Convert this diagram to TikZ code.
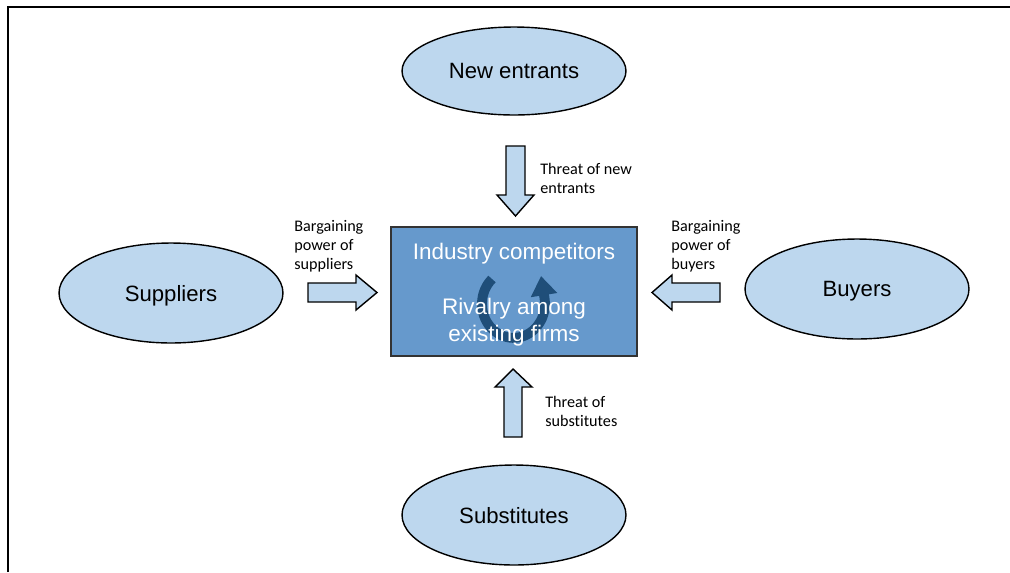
\documentclass[tikz,border=0pt]{standalone}
\usepackage{fontspec}
\setmainfont[Ligatures=NoCommon]{Carlito}
\newfontfamily\arialfont{Liberation Sans}
\usepackage{xcolor}
\usepackage{tikz}
\usetikzlibrary{shapes.geometric,arrows.meta}

\definecolor{paleblue}{RGB}{189,215,238}
\definecolor{midblue}{RGB}{102,153,204}
\definecolor{deepblue}{RGB}{31,78,121}

\begin{document}
\begin{tikzpicture}[x=0.02cm, y=-0.02cm,
  force/.style={ellipse, draw=black, fill=paleblue, line width=0.8pt, minimum width=4.48cm, minimum height=2cm, text depth=0pt, font=\arialfont\fontsize{12.6}{15}\selectfont},
  core/.style={rectangle, draw=black!80, fill=midblue, line width=0.9pt, minimum width=4.92cm, minimum height=2.58cm},
  coretext/.style={text=white, font=\arialfont\fontsize{12.8}{15.3}\selectfont, align=center},
  blockarrow/.style={draw=black, fill=paleblue, line width=0.8pt, line join=miter},
  note/.style={font=\fontsize{9.2}{10.8}\selectfont, align=left, anchor=west, inner sep=0pt}]
  \useasboundingbox (0,0) rectangle (1010,572);
  \draw[line width=0.9pt] (8,572) -- (8,7) -- (1012,7);

  % the five forces
  \node[force, minimum height=1.76cm] (entrants) at (514,71) {New entrants};
  \node[force] (suppliers) at (171,293) {Suppliers};
  \node[force] (buyers) at (857,289) {Buyers};
  \node[force] (substitutes) at (514,515) {Substitutes};
  \node[core] (rivalry) at (514,291.5) {};

  % rotation icon
  \coordinate (spinstart) at (492,279);
  \coordinate (spinend) at (541,276);
  \draw[deepblue, line width=5.6pt, -{Triangle[length=11pt, width=14.5pt]}]
    (spinstart) arc[start angle=133, end angle=370, x radius=0.63cm, y radius=0.68cm] -- (spinend);

  \node[coretext] (industry) at (514,254) {Industry competitors};
  \node[coretext] (rival) at (514,322) {Rivalry among\\existing firms};

  % block arrows
  \draw[blockarrow] (506,146) -- (525,146) -- (525,195) -- (534,195) -- (515.5,216) -- (497,195) -- (506,195) -- cycle;
  \draw[blockarrow] (504,437) -- (522,437) -- (522,387) -- (532,387) -- (513,369) -- (495,387) -- (504,387) -- cycle;
  \draw[blockarrow] (308,283) -- (356,283) -- (356,275) -- (377,292.5) -- (356,310) -- (356,302) -- (308,302) -- cycle;
  \draw[blockarrow] (720,283) -- (672,283) -- (672,275) -- (652,292.5) -- (672,310) -- (672,302) -- (720,302) -- cycle;

  % labels
  \node[note] (newlbl) at (540,178.5) {Threat of new\\entrants};
  \node[note] (suplbl) at (294,246) {Bargaining\\power of\\suppliers};
  \node[note] (buylbl) at (671,246) {Bargaining\\power of\\buyers};
  \node[note] (sublbl) at (545,411.5) {Threat of\\substitutes};
\end{tikzpicture}
\end{document}
